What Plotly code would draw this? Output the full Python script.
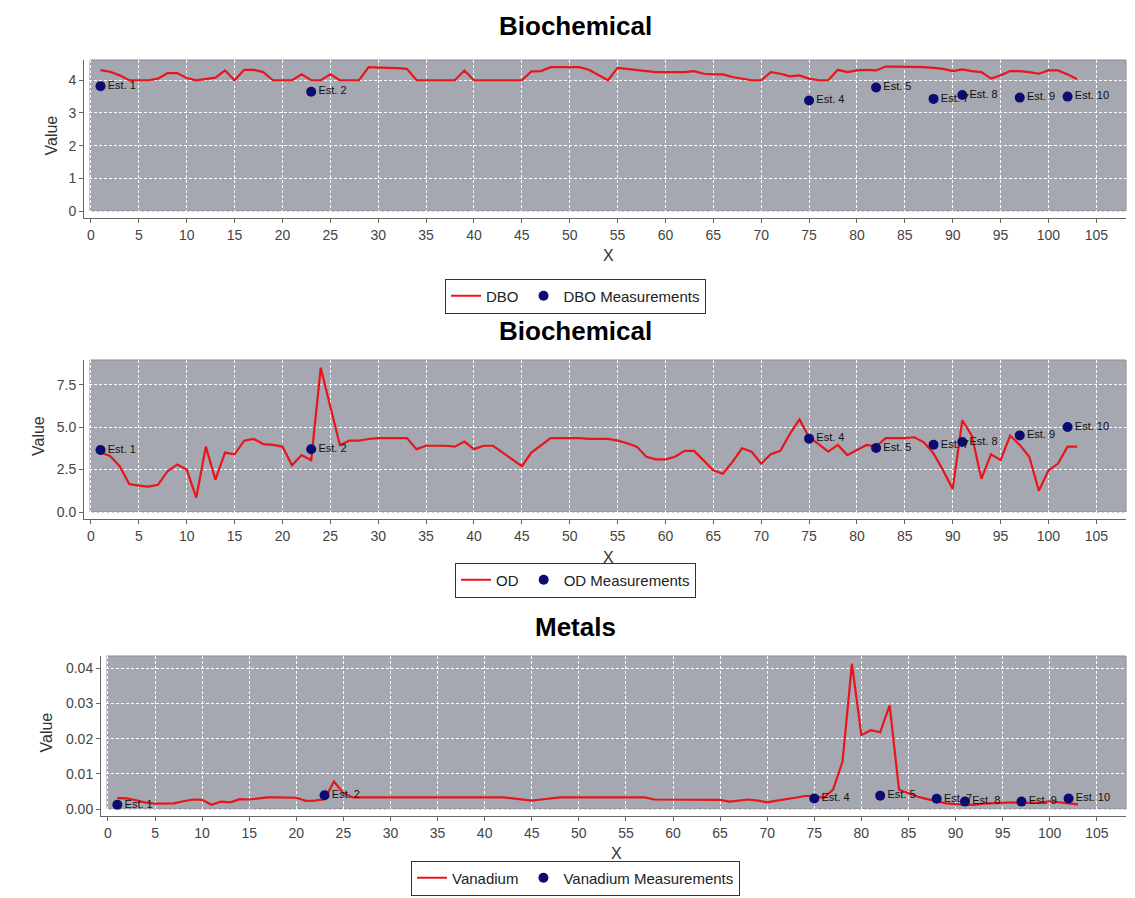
import plotly.graph_objects as go

# ---------------- data ----------------
x_model = list(range(1, 104))

dbo = [4.31, 4.26, 4.15, 4.0, 4.0, 4.0, 4.05, 4.22, 4.22, 4.07,
       4.0, 4.03, 4.08, 4.3, 4.0, 4.32, 4.32, 4.25, 4.0, 4.0,
       4.0, 4.18, 4.0, 4.0, 4.18, 4.0, 4.0, 4.0, 4.4, 4.4,
       4.38, 4.37, 4.35, 4.0, 4.0, 4.0, 4.0, 4.0, 4.3, 4.0,
       4.0, 4.0, 4.0, 4.0, 4.0, 4.27, 4.28, 4.4, 4.4, 4.4,
       4.4, 4.32, 4.15, 4.0, 4.38, 4.35, 4.33, 4.28, 4.25, 4.25,
       4.25, 4.25, 4.28, 4.2, 4.18, 4.18, 4.1, 4.05, 4.0, 4.0,
       4.25, 4.2, 4.12, 4.15, 4.05, 4.0, 4.0, 4.32, 4.25, 4.3,
       4.32, 4.3, 4.42, 4.42, 4.42, 4.42, 4.4, 4.38, 4.35, 4.28,
       4.33, 4.28, 4.25, 4.05, 4.15, 4.28, 4.28, 4.25, 4.2, 4.3,
       4.3, 4.18, 4.03]

od = [3.5, 3.3, 2.7, 1.65, 1.55, 1.5, 1.6, 2.4, 2.8, 2.5,
      0.85, 3.85, 1.9, 3.5, 3.4, 4.2, 4.3, 4.0, 3.95, 3.85,
      2.75, 3.35, 3.05, 8.5, 6.2, 3.95, 4.2, 4.2, 4.3, 4.35,
      4.35, 4.35, 4.35, 3.7, 3.9, 3.9, 3.9, 3.85, 4.15, 3.7,
      3.9, 3.9, 3.5, 3.1, 2.7, 3.5, 3.9, 4.35, 4.35, 4.35,
      4.35, 4.3, 4.3, 4.3, 4.2, 4.05, 3.85, 3.25, 3.1, 3.1,
      3.25, 3.6, 3.6, 3.05, 2.45, 2.25, 2.95, 3.75, 3.55, 2.85,
      3.4, 3.6, 4.6, 5.45, 4.4, 4.0, 3.55, 3.95, 3.35, 3.65,
      3.95, 3.85, 4.35, 4.35, 4.35, 4.4, 4.1, 3.45, 2.45, 1.35,
      5.4, 4.5, 1.95, 3.4, 3.05, 4.5, 3.95, 3.25, 1.25, 2.45,
      2.85, 3.85, 3.85]

vanadium = [0.0031, 0.0030, 0.0025, 0.0018, 0.0015, 0.0016, 0.0016, 0.0022, 0.0027, 0.0026,
            0.0012, 0.0021, 0.0019, 0.0028, 0.0027, 0.0030, 0.0033, 0.0033, 0.0032, 0.0032,
            0.0023, 0.0024, 0.0028, 0.0078, 0.0045, 0.0033, 0.0033, 0.0033, 0.0033, 0.0033,
            0.0033, 0.0033, 0.0033, 0.0033, 0.0033, 0.0033, 0.0033, 0.0033, 0.0033, 0.0033,
            0.0033, 0.0033, 0.0030, 0.0026, 0.0024, 0.0027, 0.0030, 0.0033, 0.0033, 0.0033,
            0.0033, 0.0033, 0.0033, 0.0033, 0.0033, 0.0033, 0.0033, 0.0027, 0.0027, 0.0027,
            0.0027, 0.0027, 0.0027, 0.0027, 0.0026, 0.0021, 0.0024, 0.0027, 0.0024, 0.0019,
            0.0024, 0.0027, 0.0032, 0.0037, 0.0037, 0.0032, 0.0055, 0.0135, 0.0413, 0.0210,
            0.0224, 0.0218, 0.0295, 0.0055, 0.0045, 0.0035, 0.0028, 0.0022, 0.0016, 0.0014,
            0.0013, 0.0012, 0.0015, 0.0016, 0.0018, 0.0019, 0.0017, 0.0018, 0.0018, 0.0022,
            0.0020, 0.0016, 0.0013]

station_x = [1, 23, 75, 82, 88, 91, 97, 102]
station_labels = ["Est. 1", "Est. 2", "Est. 4", "Est. 5", "Est. 7", "Est. 8", "Est. 9", "Est. 10"]
dbo_meas = [3.82, 3.65, 3.38, 3.78, 3.43, 3.55, 3.47, 3.5]
od_meas = [3.65, 3.69, 4.32, 3.77, 3.96, 4.12, 4.51, 5.0]
van_meas = [0.0012, 0.0039, 0.0030, 0.0038, 0.0029, 0.0021, 0.0021, 0.0030]

titles = ["Biochemical", "Biochemical", "Metals"]
series_names = ["DBO", "OD", "Vanadium"]
x_tick_vals = list(range(0, 110, 5))

# ---------------- layout helpers ----------------
W, H = 1135, 898
FONT = "Liberation Sans, Arial, sans-serif"
RED = "#e8161b"
NAVY = "#0b0b72"
PLOT_BG = "#a5a7b1"


def fx(p):
    return p / W


def fy(p):
    return 1 - p / H


panels = [
    dict(L=82, R=1118, T=52, B=203, yr=(0.0, 4.62), dtick=1, fmt="d",
         title_y=18, xlab_y=247, ylab_x=43, leg_y=288),
    dict(L=82, R=1118, T=352, B=504, yr=(0.0, 8.95), dtick=2.5, fmt=".1f",
         title_y=323, xlab_y=549, ylab_x=30, leg_y=572),
    dict(L=99, R=1118, T=648, B=801, yr=(0.0, 0.0435), dtick=0.01, fmt=".2f",
         title_y=619, xlab_y=845, ylab_x=38, leg_y=870),
]
XR = (-0.1, 108.1)
GAPX, GAPY = 6, 7

lines = [dbo, od, vanadium]
meas = [dbo_meas, od_meas, van_meas]

fig = go.Figure()
layout = dict(width=W, height=H, margin=dict(l=0, r=0, t=0, b=0),
              paper_bgcolor="white", plot_bgcolor="rgba(0,0,0,0)",
              font=dict(family=FONT, color="#333"), showlegend=True)
shapes, annotations = [], []

for i, p in enumerate(panels):
    n = "" if i == 0 else str(i + 1)
    xs = (XR[1] - XR[0]) / (p["R"] - p["L"])
    ys = (p["yr"][1] - p["yr"][0]) / (p["B"] - p["T"])
    xaxis = dict(
        domain=[fx(p["L"] - GAPX), fx(p["R"])],
        range=[XR[0] - GAPX * xs, XR[1]],
        anchor="y" + n, tickmode="array", tickvals=x_tick_vals,
        showgrid=True, gridcolor="white", griddash="3px,2px", gridwidth=1,
        zeroline=False, showline=True, linecolor="#666", linewidth=1,
        ticks="outside", ticklen=4, tickcolor="#666",
        tickfont=dict(size=14, color="#444", family=FONT),
    )
    yaxis = dict(
        domain=[fy(p["B"] + GAPY), fy(p["T"])],
        range=[p["yr"][0] - GAPY * ys, p["yr"][1]],
        anchor="x" + n, tick0=0, dtick=p["dtick"],
        tickformat=p["fmt"],
        showgrid=True, gridcolor="white", griddash="3px,2px", gridwidth=1,
        zeroline=False, showline=True, linecolor="#666", linewidth=1,
        ticks="outside", ticklen=4, tickcolor="#666",
        tickfont=dict(size=14, color="#444", family=FONT),
    )
    layout["xaxis" + n] = xaxis
    layout["yaxis" + n] = yaxis

    shapes.append(dict(type="rect", xref="paper", yref="paper",
                       x0=fx(p["L"]), x1=fx(p["R"]), y0=fy(p["B"]), y1=fy(p["T"]),
                       fillcolor=PLOT_BG, line=dict(color="#8c8c94", width=1),
                       layer="below"))

    annotations.append(dict(text="<b>%s</b>" % titles[i], xref="paper", yref="paper",
                            x=0.5, y=fy(p["title_y"]), showarrow=False,
                            xanchor="center", yanchor="middle",
                            font=dict(size=26, color="black", family=FONT)))
    annotations.append(dict(text="X", xref="paper", yref="paper",
                            x=fx((p["L"] + p["R"]) / 2), y=fy(p["xlab_y"]),
                            showarrow=False, xanchor="center", yanchor="middle",
                            font=dict(size=16, color="#333", family=FONT)))
    annotations.append(dict(text="Value", xref="paper", yref="paper",
                            x=fx(p["ylab_x"]), y=fy((p["T"] + p["B"]) / 2),
                            showarrow=False, textangle=-90,
                            xanchor="center", yanchor="middle",
                            font=dict(size=16, color="#333", family=FONT)))

    leg = "legend" + n
    layout[leg] = dict(orientation="h", x=0.5, xanchor="center",
                       y=fy(p["leg_y"]), yanchor="middle",
                       bgcolor="rgba(255,255,255,0)", bordercolor="#333", borderwidth=1,
                       font=dict(size=15, color="#222", family=FONT),
                       itemwidth=30, tracegroupgap=0,
                       itemclick=False, itemdoubleclick=False)

    fig.add_trace(go.Scatter(
        x=x_model, y=lines[i], mode="lines", name=series_names[i],
        line=dict(color=RED, width=2.2), xaxis="x" + n, yaxis="y" + n,
        legend=leg, hoverinfo="skip"))
    fig.add_trace(go.Scatter(
        x=station_x, y=meas[i], mode="markers+text",
        name=series_names[i] + " Measurements",
        marker=dict(color=NAVY, size=10),
        text=station_labels, textposition="middle right",
        textfont=dict(size=11, color="#111", family=FONT),
        xaxis="x" + n, yaxis="y" + n, legend=leg, hoverinfo="skip"))

layout["shapes"] = shapes
layout["annotations"] = annotations
fig.update_layout(**layout)
fig.write_html("out.html")
